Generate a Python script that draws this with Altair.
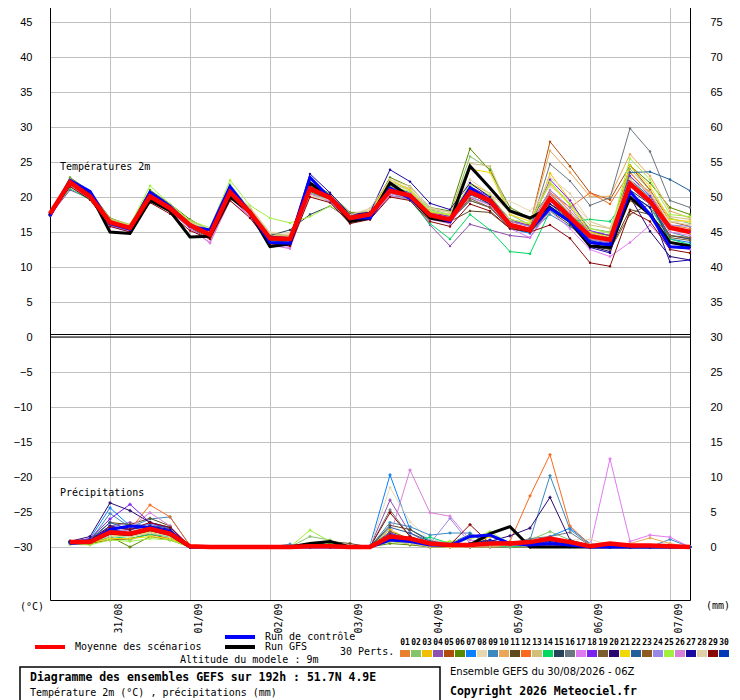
import altair as alt
import pandas as pd

# ---------------- data ----------------
HOURS = [0, 6, 12, 18, 24, 30, 36, 42, 48, 54, 60, 66, 72, 78, 84, 90, 96,
         102, 108, 114, 120, 126, 132, 138, 144, 150, 156, 162, 168, 174, 180, 186, 192]
TICK_H = [18, 42, 66, 90, 114, 138, 162, 186]
DATES = ["31/08", "01/09", "02/09", "03/09", "04/09", "05/09", "06/09", "07/09"]

MEMBERS = ["01", "02", "03", "04", "05", "06", "07", "08", "09", "10",
           "11", "12", "13", "14", "15", "16", "17", "18", "19", "20",
           "21", "22", "23", "24", "25", "26", "27", "28", "29", "30"]
COLORS = ["#e8802e", "#86c46a", "#f0c000", "#8e4fae", "#b04d0c", "#5a8a00", "#0a80ff", "#e8d8b0",
          "#3a8ac0", "#e8a858", "#5e4a1e", "#fa6a1e", "#d0c07a", "#00d860", "#27435a", "#6b7780",
          "#e07af0", "#7a20f0", "#7a5e30", "#2a0870", "#f0d800", "#23609a", "#8e5a20", "#9a88e8",
          "#a0f040", "#d880d8", "#1a0aa0", "#e0d0a8", "#880808", "#0038b8"]

# Temperature 2m (°C)
T_MEAN = [17.6, 22.1, 20.1, 16.4, 15.6, 20.1, 18.4, 16.0, 14.6, 20.7, 17.8, 14.1, 14.0, 21.2, 19.9, 17.0, 17.5,
          20.9, 20.2, 17.4, 16.8, 20.7, 19.5, 16.0, 15.3, 19.8, 17.1, 14.4, 13.9, 21.9, 19.4, 15.6, 15.0]
T_GFS = [17.5, 22.0, 20.5, 15.0, 14.8, 19.5, 18.0, 14.3, 14.4, 20.0, 17.8, 12.9, 13.3, 22.0, 20.0, 16.5, 17.0,
         22.0, 20.0, 17.0, 16.5, 24.4, 21.3, 18.0, 17.0, 18.5, 16.5, 13.0, 12.8, 20.0, 17.5, 13.5, 13.0]
T_CTRL = [17.3, 22.4, 20.8, 16.2, 15.4, 20.7, 18.7, 15.8, 15.3, 21.5, 17.8, 13.5, 13.4, 22.8, 19.8, 17.0, 17.0,
          21.3, 19.8, 17.5, 16.5, 21.3, 19.5, 16.0, 15.3, 18.4, 16.5, 13.5, 13.2, 20.8, 17.5, 12.9, 12.7]
T01 = [17.5, 22.0, 20.0, 16.5, 15.8, 20.0, 18.5, 16.2, 14.8, 20.5, 17.8, 14.0, 13.8, 21.0, 20.0, 17.2, 17.8, 21.0, 20.5, 17.8, 17.2, 21.5, 19.8, 16.5, 15.8, 21.0, 18.0, 15.0, 14.5, 23.5, 20.5, 16.0, 15.5]
T02 = [17.6, 22.5, 20.5, 16.8, 16.0, 20.8, 18.8, 16.5, 15.0, 21.8, 18.2, 14.5, 14.2, 21.5, 20.2, 17.5, 17.2, 22.0, 21.0, 18.2, 17.5, 25.8, 24.0, 17.5, 16.0, 20.0, 17.5, 15.5, 15.0, 24.0, 21.0, 17.0, 16.2]
T03 = [17.7, 21.8, 20.2, 16.2, 15.5, 19.8, 18.2, 15.8, 14.3, 20.2, 17.5, 14.2, 14.0, 20.8, 19.5, 16.8, 17.0, 21.5, 20.5, 17.0, 16.5, 22.0, 20.5, 16.0, 15.0, 23.4, 19.5, 14.8, 14.0, 22.5, 19.8, 15.5, 14.8]
T04 = [17.4, 21.0, 19.8, 16.0, 15.2, 19.5, 18.0, 15.5, 14.0, 20.0, 17.2, 13.5, 13.2, 20.5, 19.3, 16.5, 16.8, 20.2, 19.8, 16.0, 13.0, 16.1, 15.3, 14.5, 14.2, 18.5, 16.5, 13.5, 13.0, 20.5, 18.5, 14.5, 14.0]
T05 = [17.5, 22.2, 20.3, 16.4, 15.6, 20.3, 18.6, 16.0, 14.5, 20.8, 18.0, 14.2, 14.0, 21.5, 20.0, 17.0, 17.5, 21.2, 20.3, 17.5, 17.0, 21.0, 19.5, 16.5, 16.0, 27.9, 24.4, 20.6, 19.6, 24.5, 21.0, 16.5, 15.8]
T06 = [17.6, 22.8, 20.8, 17.0, 16.0, 21.0, 19.0, 16.8, 15.2, 21.5, 18.3, 14.8, 14.5, 22.0, 20.5, 17.8, 17.8, 22.8, 21.5, 18.5, 18.0, 26.9, 23.8, 18.5, 17.0, 20.5, 17.5, 15.0, 14.5, 24.5, 22.0, 18.5, 17.5]
T07 = [17.3, 21.8, 20.0, 16.3, 15.4, 20.0, 18.3, 15.9, 14.6, 20.6, 17.7, 13.8, 13.6, 21.0, 19.8, 16.8, 17.3, 20.8, 20.0, 17.2, 16.5, 19.5, 18.5, 15.5, 14.8, 18.5, 16.3, 13.5, 13.0, 22.5, 20.0, 14.0, 13.5]
T08 = [17.8, 22.3, 20.4, 16.6, 15.8, 20.5, 18.6, 16.4, 15.0, 21.0, 18.5, 15.0, 14.8, 20.0, 19.5, 17.5, 18.2, 21.8, 21.0, 18.0, 17.5, 20.5, 19.8, 19.4, 18.0, 21.5, 19.5, 16.5, 15.5, 23.0, 20.5, 16.5, 16.5]
T09 = [17.5, 22.0, 20.1, 16.4, 15.5, 20.2, 18.4, 16.0, 14.6, 20.5, 17.8, 14.0, 13.8, 21.2, 19.9, 17.0, 17.2, 20.5, 20.0, 17.5, 17.0, 20.0, 19.0, 15.8, 15.0, 17.5, 15.8, 13.8, 13.5, 21.5, 19.0, 15.0, 14.2]
T10 = [17.6, 22.4, 20.6, 16.8, 15.9, 20.4, 18.7, 16.3, 14.9, 21.2, 18.2, 14.5, 14.4, 21.6, 20.3, 17.3, 17.8, 21.4, 20.6, 17.8, 17.3, 21.2, 19.8, 16.8, 16.2, 26.6, 23.5, 20.1, 20.1, 26.1, 23.0, 18.0, 17.0]
T11 = [17.4, 21.5, 19.8, 16.0, 15.3, 19.8, 18.0, 15.6, 14.2, 20.2, 17.5, 13.8, 13.5, 20.8, 19.6, 16.7, 17.0, 20.8, 20.0, 17.0, 16.5, 18.0, 17.8, 15.5, 15.0, 18.0, 16.0, 13.0, 12.5, 18.2, 17.5, 13.5, 13.0]
T12 = [17.5, 22.2, 20.2, 16.5, 15.7, 20.6, 18.6, 16.2, 14.8, 20.8, 18.0, 14.3, 14.2, 21.3, 20.1, 17.2, 17.6, 21.2, 20.4, 17.6, 17.0, 20.5, 19.0, 16.2, 15.5, 20.6, 18.5, 20.6, 19.0, 23.5, 20.5, 15.8, 15.2]
T13 = [17.7, 22.6, 20.7, 16.9, 16.1, 20.6, 18.9, 16.6, 15.3, 21.3, 18.4, 14.6, 14.5, 21.4, 20.2, 17.6, 18.0, 22.2, 21.2, 18.3, 17.8, 24.8, 24.4, 17.8, 16.8, 21.8, 19.0, 16.0, 15.5, 22.8, 20.8, 17.2, 16.8]
T14 = [17.6, 21.2, 19.6, 16.0, 15.3, 20.0, 18.2, 15.8, 14.4, 20.4, 17.6, 13.6, 13.4, 20.6, 19.5, 16.6, 17.0, 20.6, 19.5, 16.2, 14.0, 17.5, 15.3, 12.2, 11.9, 18.0, 16.5, 16.8, 16.5, 20.5, 18.5, 14.0, 13.2]
T15 = [17.5, 22.0, 20.0, 16.3, 15.5, 20.1, 18.3, 16.0, 14.6, 20.6, 17.8, 14.5, 15.3, 17.5, 18.7, 16.8, 17.2, 21.0, 20.2, 17.4, 16.8, 20.8, 19.2, 15.8, 15.0, 19.0, 16.8, 13.5, 13.0, 21.0, 19.0, 14.5, 14.0]
T16 = [17.6, 22.1, 20.2, 16.4, 15.6, 20.2, 18.5, 16.1, 14.7, 20.8, 17.9, 14.1, 14.0, 21.3, 20.0, 17.0, 17.5, 21.0, 20.3, 17.6, 17.0, 21.0, 19.6, 16.2, 15.5, 24.7, 22.3, 18.8, 19.9, 29.8, 26.5, 19.5, 18.5]
T17 = [17.4, 21.5, 19.8, 15.8, 15.0, 19.5, 18.0, 15.5, 13.5, 20.0, 17.2, 13.0, 12.8, 20.5, 19.5, 16.6, 17.0, 20.5, 19.8, 17.0, 16.2, 20.0, 18.8, 15.5, 14.2, 18.0, 15.5, 12.5, 11.5, 13.5, 16.0, 13.0, 12.5]
T18 = [17.5, 22.0, 20.1, 16.4, 15.6, 20.2, 18.4, 16.0, 14.6, 20.7, 17.8, 14.2, 14.0, 21.8, 20.2, 17.2, 17.5, 21.6, 20.6, 17.8, 17.2, 21.5, 20.0, 16.8, 15.8, 22.5, 19.5, 15.2, 14.5, 23.0, 20.2, 15.5, 15.0]
T19 = [17.5, 21.8, 20.0, 16.2, 15.4, 19.9, 18.2, 15.8, 14.4, 20.4, 17.6, 14.0, 13.8, 20.9, 19.7, 16.8, 17.2, 20.7, 19.9, 17.2, 16.6, 19.8, 18.5, 15.6, 15.0, 19.0, 17.2, 13.5, 12.5, 17.5, 19.0, 14.2, 13.8]
T20 = [17.5, 22.2, 20.4, 16.5, 15.7, 20.3, 18.6, 16.2, 14.8, 20.9, 17.9, 14.3, 14.1, 21.5, 20.3, 17.3, 17.8, 21.3, 20.4, 17.4, 16.8, 20.5, 19.0, 16.0, 15.2, 19.5, 17.0, 13.0, 12.2, 20.0, 15.1, 11.5, 11.0]
T21 = [17.6, 22.3, 20.3, 16.6, 15.8, 20.4, 18.7, 16.3, 14.9, 20.5, 17.6, 14.3, 14.2, 21.0, 19.9, 17.1, 17.6, 22.5, 21.0, 17.8, 17.5, 24.0, 23.5, 17.5, 16.5, 22.0, 18.8, 15.0, 14.2, 24.5, 21.5, 16.8, 16.5]
T22 = [17.5, 22.0, 20.1, 16.3, 15.5, 20.0, 18.3, 15.9, 14.5, 20.6, 17.8, 14.0, 13.8, 21.2, 19.9, 17.0, 17.4, 20.8, 20.1, 17.3, 16.8, 20.3, 19.3, 16.0, 15.3, 19.5, 17.2, 14.5, 14.2, 23.5, 23.6, 22.5, 20.9]
T23 = [17.5, 21.8, 19.9, 16.2, 15.4, 19.8, 18.2, 15.8, 14.3, 20.3, 17.5, 13.9, 13.7, 21.0, 19.8, 16.8, 17.2, 21.0, 20.2, 17.3, 16.7, 19.5, 18.5, 16.0, 15.5, 20.0, 17.5, 14.0, 13.5, 19.5, 17.5, 14.5, 14.2]
T24 = [17.6, 22.3, 20.4, 16.6, 15.7, 20.4, 18.6, 16.1, 14.7, 20.8, 18.0, 14.3, 14.2, 21.4, 20.1, 17.2, 17.6, 21.3, 20.5, 17.6, 17.1, 21.0, 19.8, 16.5, 15.8, 21.0, 18.5, 14.8, 14.0, 22.0, 19.5, 16.0, 15.8]
T25 = [17.6, 22.5, 20.5, 16.8, 16.0, 21.6, 19.0, 16.6, 15.6, 22.4, 18.8, 17.0, 16.3, 17.2, 18.7, 17.0, 17.8, 21.5, 20.8, 18.0, 17.4, 21.8, 20.2, 16.8, 16.2, 22.2, 19.0, 15.5, 14.8, 25.5, 22.5, 17.5, 17.2]
T26 = [17.5, 21.8, 20.0, 16.0, 15.2, 19.6, 18.0, 15.6, 13.4, 19.5, 17.2, 13.2, 12.6, 20.5, 19.4, 16.5, 17.0, 20.2, 19.6, 16.8, 16.2, 20.5, 19.2, 15.8, 15.0, 20.5, 17.8, 14.0, 13.5, 21.5, 19.0, 15.0, 14.5]
T27 = [17.5, 22.2, 20.3, 16.5, 15.7, 20.3, 18.5, 16.1, 14.7, 20.9, 18.0, 14.4, 14.2, 23.3, 20.6, 17.5, 17.8, 23.9, 22.2, 19.1, 18.2, 22.0, 20.0, 16.0, 15.0, 19.0, 17.2, 12.8, 12.0, 20.5, 18.5, 10.7, 11.0]
T28 = [17.7, 22.4, 20.5, 16.7, 15.9, 20.5, 18.7, 16.4, 15.0, 21.0, 18.6, 14.8, 14.6, 20.2, 19.6, 17.4, 18.4, 22.5, 21.5, 18.5, 17.8, 22.5, 20.5, 17.8, 16.8, 22.8, 20.5, 16.5, 15.5, 22.5, 20.5, 16.5, 16.0]
T29 = [17.4, 21.5, 19.6, 15.8, 15.0, 19.2, 17.6, 15.2, 14.0, 19.5, 17.0, 13.3, 13.0, 20.0, 19.2, 16.2, 16.8, 20.0, 19.5, 16.5, 15.8, 19.0, 18.0, 15.5, 15.0, 16.0, 14.1, 10.6, 10.1, 18.0, 16.5, 12.5, 12.0]
T30 = [17.5, 22.1, 20.2, 16.4, 15.6, 20.2, 18.4, 16.0, 14.6, 20.7, 17.8, 14.0, 13.8, 21.2, 19.8, 17.0, 17.4, 21.0, 20.2, 17.4, 16.9, 21.0, 19.5, 16.0, 15.2, 19.8, 17.0, 13.8, 13.0, 22.0, 19.5, 13.5, 13.0]

# Precipitation (mm / 6h); first step has no value
P_MEAN = [None, 0.7, 0.7, 2.1, 1.9, 2.6, 1.9, 0.1, 0, 0, 0, 0, 0, 0.1, 0.1, 0, 0, 1.5, 1.2, 0.5, 0.3, 0.3, 0.5, 0.5, 0.7, 1.2, 0.7, 0.1, 0.5, 0.2, 0.2, 0.1, 0]
P_GFS = [None, 0.6, 0.8, 2.0, 1.8, 2.5, 1.8, 0, 0, 0, 0, 0, 0, 0.5, 0.8, 0, 0, 1.5, 1.0, 0.5, 0.2, 0.3, 1.9, 2.9, 0, 0, 0, 0, 0, 0, 0, 0, 0]
P_CTRL = [None, 0.5, 0.7, 2.5, 3.0, 2.8, 2.2, 0, 0, 0, 0, 0, 0, 0, 0, 0, 0, 1.0, 0.8, 0.3, 0.2, 1.5, 1.7, 0.5, 0.3, 0.5, 0.3, 0, 0, 0, 0, 0, 0]
P01 = [None, 0.6, 0.8, 1.5, 1.8, 2.5, 2.0, 0.1, 0, 0, 0, 0, 0, 0, 0, 0, 0, 1.0, 0.5, 0.2, 0, 0.3, 0.5, 0.2, 0.5, 0.8, 0.5, 0, 0, 0, 0, 0, 0]
P02 = [None, 0.5, 0.6, 1.2, 1.0, 2.0, 1.5, 0, 0, 0, 0, 0, 0, 1.5, 1.0, 0, 0, 1.2, 0.8, 0.3, 0.2, 0.5, 0.8, 0.5, 1.0, 2.2, 1.0, 0, 0, 0, 0, 0, 0]
P03 = [None, 0.7, 0.9, 1.8, 1.5, 2.2, 1.8, 0.1, 0, 0, 0, 0, 0, 0, 0, 0, 0, 2.5, 1.0, 0.3, 0, 0.2, 1.5, 0.5, 0.3, 0.5, 0.2, 0, 0, 0, 0, 0, 0]
P04 = [None, 0.8, 1.0, 3.0, 3.5, 2.8, 2.5, 0, 0, 0, 0, 0, 0, 0, 0, 0, 0, 6.7, 2.0, 0.5, 0.3, 0, 0, 0, 0, 0.3, 0, 0, 0, 0, 0, 0, 0]
P05 = [None, 0.6, 0.5, 1.0, 1.2, 1.8, 1.2, 0, 0, 0, 0, 0, 0, 0, 0, 0, 0, 0.8, 0.5, 0, 0, 0, 0.2, 0.3, 0.5, 1.0, 0.5, 0, 0, 0, 0, 0, 0]
P06 = [None, 0.5, 0.4, 1.5, 0.0, 1.5, 1.0, 0, 0, 0, 0, 0, 0, 0, 0.5, 0, 0, 0.5, 0.3, 0, 0, 0, 0, 0, 0, 0.5, 0.2, 0, 0, 0, 0, 0, 0]
P07 = [None, 0.7, 1.2, 5.6, 3.0, 3.2, 2.8, 0.1, 0, 0, 0, 0, 0, 0, 0, 0, 0.2, 10.3, 2.5, 1.0, 0.5, 0.3, 0.5, 0.3, 0.5, 1.5, 2.7, 0.5, 0, 0, 0, 0, 0]
P08 = [None, 0.6, 0.8, 2.5, 2.2, 3.0, 2.2, 0, 0, 0, 0, 0, 0, 0, 0, 0, 0, 8.5, 3.6, 1.0, 0.5, 0.2, 0.3, 0, 0.5, 0.8, 1.0, 1.1, 0.3, 0, 0, 0, 0]
P09 = [None, 0.7, 0.9, 4.8, 2.8, 4.0, 4.3, 0.2, 0, 0, 0, 0, 0.4, 0, 0, 0, 0, 3.5, 2.9, 1.7, 2.0, 2.0, 0.5, 0.5, 1.0, 10.2, 2.5, 0.3, 0, 0, 0, 1.1, 0]
P10 = [None, 0.6, 0.7, 1.8, 1.6, 2.4, 1.6, 0, 0, 0, 0, 0, 0, 0, 0, 0, 0, 1.5, 0.8, 0.3, 0, 0, 0, 0.2, 0.3, 0.8, 0.5, 0.3, 0.2, 0.5, 1.3, 0.5, 0]
P11 = [None, 0.8, 1.1, 3.5, 3.2, 4.1, 3.0, 0.1, 0, 0, 0, 0, 0, 0, 0.8, 0.5, 0, 3.1, 2.5, 0.8, 0.3, 0.2, 0.3, 0.3, 0.5, 0.5, 0.3, 0, 0, 0, 0, 0, 0]
P12 = [None, 0.7, 1.0, 2.8, 2.5, 6.0, 4.3, 0.2, 0, 0, 0, 0, 0, 0, 0, 0, 0, 1.8, 0.5, 0.2, 0, 0.3, 0.5, 0.8, 7.3, 13.2, 3.0, 0.3, 0, 0, 0, 0, 0]
P13 = [None, 0.5, 0.6, 1.5, 1.5, 2.0, 1.5, 0, 0, 0, 0, 0, 0, 0, 0, 0, 0, 1.5, 0.5, 0, 0, 0, 0.3, 0.2, 0.2, 0.5, 0.3, 0, 0, 0, 0, 0, 0]
P14 = [None, 0.4, 0.5, 1.5, 1.2, 1.8, 1.5, 0, 0, 0, 0, 0, 0, 0, 0, 0, 0, 1.2, 0.8, 1.4, 0.5, 0.5, 0.3, 0, 0.3, 0.5, 0.3, 0, 0, 0, 0, 0, 0]
P15 = [None, 0.6, 0.8, 2.5, 2.0, 2.8, 2.5, 0, 0, 0, 0, 0, 0, 0, 0, 0, 0, 2.0, 1.0, 0.5, 0.2, 0.3, 0.5, 0.3, 0.5, 1.0, 0.8, 0, 0, 0, 0, 0, 0]
P16 = [None, 0.6, 0.7, 2.0, 1.8, 2.5, 2.0, 0, 0, 0, 0, 0, 0, 0, 0, 0, 0, 5.3, 1.5, 0.5, 0.3, 0.2, 0.3, 0.5, 1.2, 1.5, 2.1, 0.2, 0, 0, 0, 0, 0]
P17 = [None, 0.5, 0.7, 1.8, 2.5, 3.5, 2.0, 0, 0, 0, 0, 0, 0, 0, 0, 0, 0, 1.0, 0.8, 0.3, 0.5, 0.2, 0.8, 0.5, 0.5, 0.8, 0.5, 0, 12.6, 0.8, 1.7, 1.4, 0]
P18 = [None, 0.7, 1.2, 4.0, 6.1, 3.5, 2.5, 0.1, 0, 0, 0, 0, 0, 0, 0, 0, 0, 2.0, 1.0, 0.3, 0.2, 0.2, 0.5, 0.2, 0.3, 0.5, 0.3, 0, 0, 0, 0, 0, 0]
P19 = [None, 0.6, 0.8, 2.2, 2.0, 2.8, 2.2, 0, 0, 0, 0, 0, 0, 0, 0, 0, 0, 2.2, 1.2, 0.5, 0.2, 0, 0.2, 0.3, 0.5, 0.8, 0.5, 0, 0, 0, 0, 0, 0]
P20 = [None, 0.8, 1.5, 6.3, 5.2, 3.5, 2.8, 0.2, 0, 0, 0, 0, 0, 0, 0, 0, 0, 1.5, 0.8, 0.3, 0.2, 0.5, 0.8, 1.6, 2.7, 7.1, 1.0, 0.2, 0, 0, 0, 0, 0]
P21 = [None, 0.5, 0.6, 1.2, 1.2, 1.5, 1.2, 0, 0, 0, 0, 0, 0, 0, 0, 0, 0, 1.8, 0.8, 0.2, 0, 0.2, 1.6, 0.5, 0.3, 0.5, 0.3, 0, 0, 0, 0, 0, 0]
P22 = [None, 0.7, 0.9, 3.5, 2.5, 3.0, 2.8, 0.1, 0, 0, 0, 0, 0, 0, 0, 0, 0, 2.8, 2.0, 0.8, 0.5, 1.8, 0.5, 0.3, 0.5, 1.0, 0.8, 0, 0, 0, 0, 0, 0]
P23 = [None, 0.6, 0.7, 2.0, 1.8, 2.5, 1.8, 0, 0, 0, 0, 0, 0, 0, 0, 0, 0, 1.5, 0.8, 0.3, 0.2, 0, 0.3, 0.2, 0.3, 0.8, 0.5, 0, 0, 0, 0, 0, 0]
P24 = [None, 0.6, 0.8, 2.2, 2.5, 3.0, 2.5, 0, 0, 0, 0, 0, 0, 0, 0, 0, 0, 1.2, 1.0, 0.5, 4.1, 0.5, 0.3, 0.2, 0.5, 0.5, 0.3, 0, 0, 0, 0, 0, 0]
P25 = [None, 0.4, 0.3, 1.0, 0.8, 1.2, 1.0, 0, 0, 0, 0, 0, 0, 2.4, 0.8, 0, 0, 0.8, 0.5, 0.5, 0.8, 1.1, 2.2, 0.5, 0.3, 0.5, 0.3, 0, 0, 0, 0, 0, 0]
P26 = [None, 0.6, 0.8, 2.5, 2.8, 4.9, 3.0, 0.1, 0, 0, 0, 0, 0, 0, 0, 0, 0, 1.5, 11.0, 4.9, 4.4, 1.0, 0.5, 0.3, 0.5, 0.8, 0.5, 0, 0, 0, 0, 0, 0]
P27 = [None, 0.7, 1.0, 3.0, 2.5, 3.0, 2.5, 0, 0, 0, 0, 0, 0, 0, 0, 0, 0, 1.8, 1.0, 0.3, 0.2, 0.5, 1.0, 0.5, 0.5, 0.8, 0.3, 0, 0, 0, 0, 0, 0]
P28 = [None, 0.6, 0.7, 1.5, 1.5, 2.0, 1.5, 0, 0, 0, 0, 0, 0, 0, 0, 0, 0, 1.0, 0.5, 0.2, 0, 0, 0.2, 0.2, 0.3, 0.5, 0.3, 0.5, 0, 0, 0, 0, 0]
P29 = [None, 0.7, 0.9, 2.8, 2.5, 3.5, 2.8, 0.1, 0, 0, 0, 0, 0, 0, 0, 0, 0, 4.9, 1.5, 0.5, 0.3, 3.2, 0.5, 0.3, 0.5, 1.0, 0.5, 0, 0, 0, 0, 0, 0]
P30 = [None, 0.6, 0.8, 2.5, 2.0, 2.8, 2.2, 0, 0, 0, 0, 0, 0, 0, 0, 0, 0, 1.5, 1.0, 0.5, 0.3, 0.5, 0.8, 0.5, 0.5, 1.0, 0.5, 0, 0, 0, 0, 0, 0]

T_PERTS = [T01, T02, T03, T04, T05, T06, T07, T08, T09, T10, T11, T12, T13, T14, T15,
           T16, T17, T18, T19, T20, T21, T22, T23, T24, T25, T26, T27, T28, T29, T30]
P_PERTS = [P01, P02, P03, P04, P05, P06, P07, P08, P09, P10, P11, P12, P13, P14, P15,
           P16, P17, P18, P19, P20, P21, P22, P23, P24, P25, P26, P27, P28, P29, P30]


def long_table(series_list, names):
    rows = []
    for name, vals in zip(names, series_list):
        for h, v in zip(HOURS, vals):
            if v is not None:
                rows.append({"h": h, "m": name, "v": v})
    return pd.DataFrame(rows)


def single(vals):
    return pd.DataFrame([{"h": h, "v": v} for h, v in zip(HOURS, vals) if v is not None])


t_members = long_table(T_PERTS, MEMBERS)
p_members = long_table(P_PERTS, MEMBERS)

MONO = "DejaVu Sans Mono"
GRID = "#c0c0c0"

label_expr = " : ".join(f"datum.value == {h} ? '{d}'" for h, d in zip(TICK_H, DATES)) + " : ''"

xscale = alt.Scale(domain=[0, 192], nice=False, zero=False)
xaxis = alt.Axis(values=TICK_H, labelExpr=label_expr, grid=True, gridColor=GRID, ticks=False, tickSize=0,
                 labelAngle=270, labelAlign="right", labelBaseline="middle", labelOffset=8, labelPadding=3,
                 labelFont=MONO, labelFontSize=10, labelColor="black", domainColor="black",
                 labelOverlap=False, labelFlush=False, title=None)
X = alt.X("h:Q", scale=xscale, axis=xaxis)

yt_scale = alt.Scale(domain=[-37.571, 48.143], nice=False, zero=False)
yt_axis = alt.Axis(orient="left", values=list(range(-30, 50, 5)), grid=True, gridColor=GRID, ticks=False,
                   tickSize=0, labelPadding=18, labelFont="Liberation Sans", labelFontSize=11,
                   labelColor="black", domainColor="black", labelOverlap=False, labelFlush=False, title=None)
YT = alt.Y("v:Q", scale=yt_scale, axis=yt_axis)

yp_scale = alt.Scale(domain=[-7.571, 78.143], nice=False, zero=False)
yp_axis = alt.Axis(orient="right", values=list(range(0, 80, 5)), grid=False, ticks=False, tickSize=0,
                   labelPadding=20, labelFont="Liberation Sans", labelFontSize=11, labelColor="black",
                   domainColor="black", labelOverlap=False, labelFlush=False, title=None)
YP = alt.Y("v:Q", scale=yp_scale, axis=yp_axis)

CSCALE = alt.Scale(domain=MEMBERS, range=COLORS)
C = alt.Color("m:N", scale=CSCALE, legend=None)

temp = alt.layer(
    alt.Chart(t_members).mark_line(strokeWidth=1, point=alt.OverlayMarkDef(size=6, filled=True)).encode(x=X, y=YT, color=C),
    alt.Chart(single(T_GFS)).mark_line(color="black", strokeWidth=3).encode(x=X, y=YT),
    alt.Chart(single(T_CTRL)).mark_line(color="#0000ff", strokeWidth=3).encode(x=X, y=YT),
    alt.Chart(single(T_MEAN)).mark_line(color="#ff0000", strokeWidth=4.5).encode(x=X, y=YT),
)

precip = alt.layer(
    alt.Chart(p_members).mark_line(strokeWidth=1, point=alt.OverlayMarkDef(size=10, shape="cross", filled=True)).encode(x=X, y=YP, color=C),
    alt.Chart(single(P_GFS)).mark_line(color="black", strokeWidth=3).encode(x=X, y=YP),
    alt.Chart(single(P_CTRL)).mark_line(color="#0000ff", strokeWidth=3).encode(x=X, y=YP),
    alt.Chart(single(P_MEAN)).mark_line(color="#ff0000", strokeWidth=4.5).encode(x=X, y=YP),
)

ONE = pd.DataFrame({"a": [0]})


def txt(s, x, y, size=10, bold=False, font=MONO, align="left"):
    return alt.Chart(ONE).mark_text(text=s, align=align, baseline="middle", font=font, fontSize=size,
                                    fontWeight="bold" if bold else "normal", color="black").encode(
        x=alt.value(x), y=alt.value(y))


def hline(x1, x2, y, color, width):
    return alt.Chart(ONE).mark_rule(color=color, strokeWidth=width).encode(
        x=alt.value(x1), x2=alt.value(x2), y=alt.value(y))


def box(x1, x2, y1, y2, color):
    return alt.Chart(ONE).mark_rect(color=color).encode(
        x=alt.value(x1), x2=alt.value(x2), y=alt.value(y1), y2=alt.value(y2))


annots = [
    hline(0, 640, 334.5, "black", 1.2),
    hline(0, 640, 337, "black", 1.2),
    txt("Températures 2m", 10, 167),
    txt("Précipitations", 10, 493),
    txt("(°C)", -30, 607),
    txt("(mm)", 656, 606),
    hline(-15, 15, 647, "#ff0000", 4),
    txt("Moyenne des scénarios", 25, 647),
    hline(175, 205, 637, "#0000ff", 4),
    hline(175, 205, 647, "black", 4),
    txt("Run de contrôle", 215, 637),
    txt("Run GFS", 215, 647),
    txt("Altitude du modele : 9m", 130, 660),
    txt("30 Perts.", 290, 652),
    alt.Chart(ONE).mark_rect(fillOpacity=0, stroke="black", strokeWidth=1.5).encode(
        x=alt.value(-30), x2=alt.value(390), y=alt.value(667), y2=alt.value(705)),
    txt("Diagramme des ensembles GEFS sur 192h : 51.7N 4.9E", -20, 678, size=11.5, bold=True),
    txt("Température 2m (°C) , précipitations (mm)", -20, 693),
    txt("Ensemble GEFS du 30/08/2026 - 06Z", 400, 672, size=10, font="Liberation Sans Narrow, DejaVu Sans"),
    txt("Copyright 2026 Meteociel.fr", 400, 692, size=11.5, bold=True),
]
for i, (name, col) in enumerate(zip(MEMBERS, COLORS)):
    annots.append(box(350 + 11 * i, 360 + 11 * i, 650, 657, col))
    annots.append(txt(name, 355 + 11 * i, 643, size=8, bold=True, align="center"))

chart = alt.layer(temp, precip, *annots).resolve_scale(y="independent").properties(
    width=640, height=600,
    autosize=alt.AutoSizeParams(type="none"),
    padding={"left": 42, "right": 42, "top": -8, "bottom": 100},
    background="white",
).configure_view(stroke=None)

chart.save("out.html", embed_options={"renderer": "svg", "actions": False})
